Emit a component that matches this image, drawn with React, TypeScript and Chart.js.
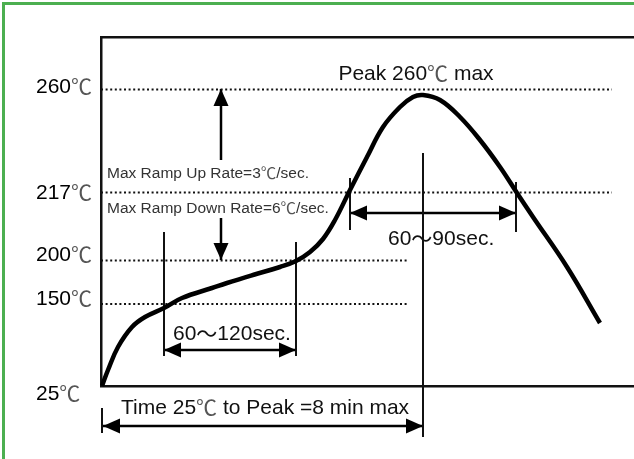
import React, { useEffect, useRef } from "react";
import { Chart, registerables } from "chart.js";

Chart.register(...registerables);

// Schematic reflow profile. X = time (schematic units), Y = schematic level units.
const curveTime = [1, 7, 17, 31, 44, 63, 81, 111, 126, 152, 179, 195, 209, 222, 234, 249, 266, 282, 299, 312, 322, 339, 359, 379, 399, 416, 432, 466, 499];
const curveLevel = [0, 16, 39, 59, 69, 78, 88, 98, 103, 111, 119, 125, 134, 147, 166, 196, 229, 259, 279, 289, 291, 286, 269, 246, 219, 193, 169, 119, 63];

const tempLabels = ["260℃", "217℃", "200℃", "150℃", "25℃"];
const tempTickLevels = [298.5, 192.5, 131, 86.5, -8.5];

const guideLevels = [296.5, 193.5, 125.5, 82];
const guideEnds = [511, 511, 306, 306];

const markerX = [63, 195, 249, 415, 322, 1];
const markerTop = [154, 144, 208, 204, 233, -22];
const markerBottom = [30, 30, 156, 154, -51, -47];

const arrowX1 = [120, 120, 63, 249, 2];
const arrowY1 = [226, 168, 36, 173, -40];
const arrowX2 = [120, 120, 195, 415, 322];
const arrowY2 = [297, 126, 36, 173, -40];
const arrowBoth = [false, false, true, true, true];

const noteTexts = ["Peak 260℃ max", "Max Ramp Up Rate=3℃/sec.", "Max Ramp Down Rate=6℃/sec.", "60～120sec.", "60～90sec.", "Time 25℃ to Peak =8 min max"];
const noteX = [315, 6, 6, 72, 287, 20];
const noteY = [312, 212, 177, 52, 147, -22];
const noteSmall = [false, true, true, false, false, false];
const noteCenter = [true, false, false, false, false, false];

const X_MAX = 533;
const Y_MAX = 349;
const LATIN = '"Liberation Sans", Arial, sans-serif';
const CJK = '"Noto Sans CJK SC", "Noto Sans CJK JP", sans-serif';

function drawMixed(ctx: CanvasRenderingContext2D, text: string, x: number, y: number, size: number, color: string, align: string) {
  const runs: { s: string; cjk: boolean }[] = [];
  for (const ch of text) {
    const cjk = ch === "℃" || ch === "～";
    const last = runs[runs.length - 1];
    if (last && last.cjk === cjk) last.s += ch;
    else runs.push({ s: ch, cjk });
  }
  let total = 0;
  const widths = runs.map((r) => {
    ctx.font = `${size}px ${r.cjk ? CJK : LATIN}`;
    const w = ctx.measureText(r.s).width;
    total += w;
    return w;
  });
  let cx = align === "center" ? x - total / 2 : x;
  ctx.textAlign = "left";
  ctx.textBaseline = "middle";
  runs.forEach((r, i) => {
    ctx.font = `${size}px ${r.cjk ? CJK : LATIN}`;
    ctx.fillStyle = r.cjk && r.s.includes("℃") ? "#555" : color;
    ctx.fillText(r.s, cx, r.cjk ? y - 1 : y);
    cx += widths[i];
  });
}

export default function App() {
  const ref = useRef<HTMLCanvasElement | null>(null);

  useEffect(() => {
    const canvas = ref.current;
    if (!canvas) return;

    const datasets: any[] = [];
    datasets.push({
      data: curveTime.map((t, i) => ({ x: t, y: curveLevel[i] })),
      borderColor: "#000",
      borderWidth: 4.5,
      pointRadius: 0,
      tension: 0.4,
      borderCapStyle: "butt",
      fill: false,
      clip: false,
    });
    guideLevels.forEach((lv, i) => {
      datasets.push({
        data: [{ x: 0, y: lv }, { x: guideEnds[i], y: lv }],
        borderColor: "#111",
        borderWidth: 2,
        borderDash: [2, 2.6],
        borderCapStyle: "butt",
        pointRadius: 0,
        fill: false,
      });
    });
    markerX.forEach((mx, i) => {
      datasets.push({
        data: [{ x: mx, y: markerTop[i] }, { x: mx, y: markerBottom[i] }],
        borderColor: "#111",
        borderWidth: 2,
        pointRadius: 0,
        fill: false,
        clip: false,
      });
    });
    arrowX1.forEach((ax, i) => {
      datasets.push({
        data: [{ x: ax, y: arrowY1[i] }, { x: arrowX2[i], y: arrowY2[i] }],
        borderColor: "#000",
        borderWidth: 2.5,
        pointRadius: 0,
        fill: false,
        clip: false,
      });
    });

    const drawHead = (ctx: CanvasRenderingContext2D, tx: number, ty: number, fx: number, fy: number) => {
      const ang = Math.atan2(ty - fy, tx - fx);
      const len = 17;
      const hw = 7.5;
      const bx = tx - Math.cos(ang) * len;
      const by = ty - Math.sin(ang) * len;
      const nx = -Math.sin(ang) * hw;
      const ny = Math.cos(ang) * hw;
      ctx.beginPath();
      ctx.moveTo(tx, ty);
      ctx.lineTo(bx + nx, by + ny);
      ctx.lineTo(bx - nx, by - ny);
      ctx.closePath();
      ctx.fill();
    };

    const decor = {
      id: "decor",
      beforeDraw(chart: any) {
        const ctx = chart.ctx as CanvasRenderingContext2D;
        ctx.save();
        ctx.fillStyle = "rgb(76,175,80)";
        ctx.fillRect(2, 2, chart.width - 2, 3);
        ctx.fillRect(2, 2, 3, chart.height - 2);
        ctx.restore();
      },
      afterDraw(chart: any) {
        const ctx = chart.ctx as CanvasRenderingContext2D;
        const xs = chart.scales.x;
        const ys = chart.scales.y;
        ctx.save();
        ctx.fillStyle = "#000";
        arrowX1.forEach((ax, i) => {
          const x1 = xs.getPixelForValue(ax);
          const y1 = ys.getPixelForValue(arrowY1[i]);
          const x2 = xs.getPixelForValue(arrowX2[i]);
          const y2 = ys.getPixelForValue(arrowY2[i]);
          drawHead(ctx, x2, y2, x1, y1);
          if (arrowBoth[i]) drawHead(ctx, x1, y1, x2, y2);
        });
        // y-axis temperature labels at the scale's own ticks
        ys.ticks.forEach((t: any, i: number) => {
          drawMixed(ctx, tempLabels[i], ys.left, ys.getPixelForValue(t.value), 21, "#000", "left");
        });
        noteTexts.forEach((t, i) => {
          drawMixed(
            ctx,
            t,
            xs.getPixelForValue(noteX[i]),
            ys.getPixelForValue(noteY[i]),
            noteSmall[i] ? 15.5 : 21,
            noteSmall[i] ? "#333" : "#111",
            noteCenter[i] ? "center" : "left"
          );
        });
        ctx.restore();
      },
    };

    const chart = new Chart(canvas, {
      type: "line",
      data: { datasets },
      plugins: [decor],
      options: {
        animation: false,
        responsive: false,
        devicePixelRatio: 1,
        layout: { padding: { top: 37, left: 36, right: 0, bottom: 0 } },
        plugins: { legend: { display: false }, tooltip: { enabled: false } },
        events: [],
        scales: {
          x: {
            type: "linear",
            min: 0,
            max: X_MAX,
            grid: { display: false },
            ticks: { display: false },
            border: { display: true, color: "#111", width: 2.5 },
            afterFit: (s: any) => { s.height = 73; },
          },
          xTop: {
            type: "linear",
            position: "top",
            min: 0,
            max: X_MAX,
            grid: { display: false },
            ticks: { display: false },
            border: { display: true, color: "#111", width: 2.5 },
            afterFit: (s: any) => { s.height = 0; },
          },
          y: {
            type: "linear",
            min: 0,
            max: Y_MAX,
            grid: { display: false },
            border: { display: true, color: "#111", width: 2.5 },
            afterBuildTicks: (s: any) => {
              s.ticks = tempTickLevels.map((v) => ({ value: v }));
            },
            afterFit: (s: any) => { s.width = 65; },
            ticks: {
              display: false,
              autoSkip: false,
              callback: (_v: any, idx: number) => tempLabels[idx],
            },
          },
        },
      } as any,
    });
    return () => chart.destroy();
  }, []);

  return (
    <div style={{ position: "fixed", left: 0, top: 0, width: 634, height: 459, background: "#fff" }}>
      <canvas ref={ref} width={634} height={459} style={{ display: "block" }} />
    </div>
  );
}
